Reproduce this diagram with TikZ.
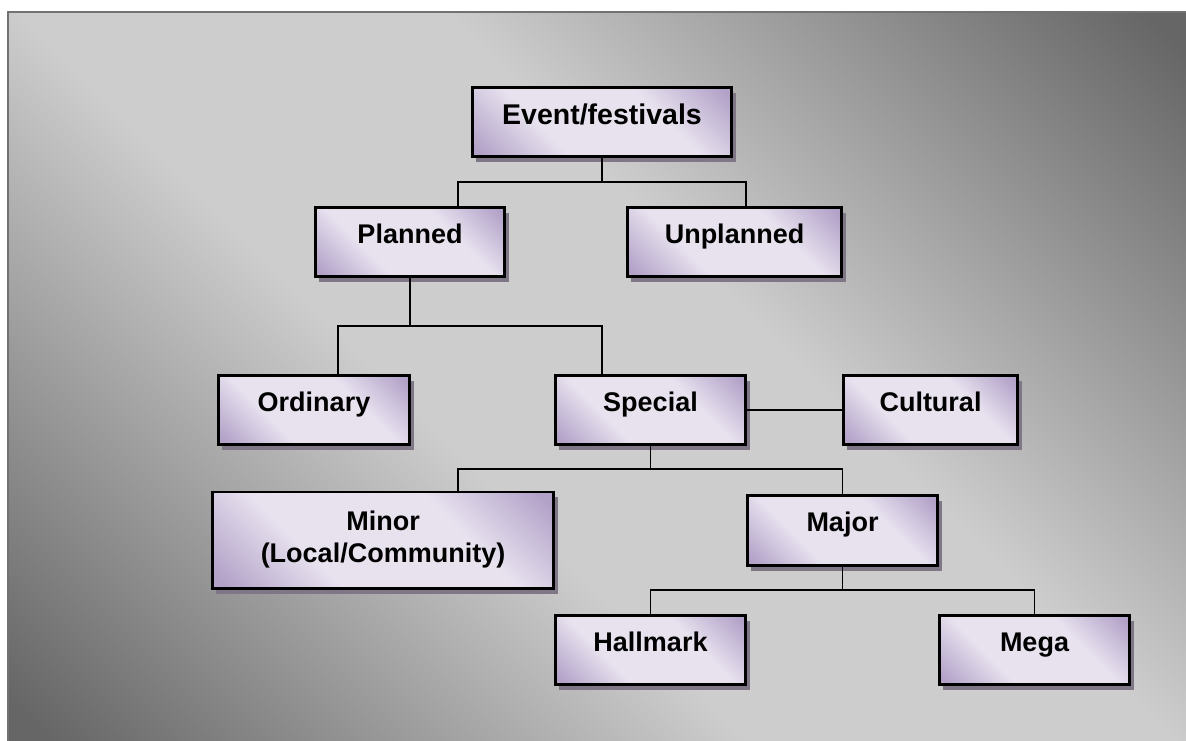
\documentclass[tikz,border=0pt]{standalone}
\usepackage{fontspec}
\setmainfont{Liberation Sans}
\usetikzlibrary{shadows,calc}
\definecolor{bgdark}{HTML}{666666}
\definecolor{bglight}{HTML}{CDCDCD}
\definecolor{boxpurple}{HTML}{B2A2C8}
\definecolor{boxlight}{HTML}{E8E2EF}
\definecolor{shadowc}{HTML}{7F7786}
\definecolor{framec}{HTML}{727272}
\pgfdeclareverticalshading{bgshade}{100bp}{color(0bp)=(bgdark); color(16bp)=(bgdark); color(42bp)=(bglight); color(58bp)=(bglight); color(84bp)=(bgdark); color(100bp)=(bgdark)}
\pgfdeclareverticalshading{boxshade}{100bp}{color(0bp)=(boxpurple); color(17bp)=(boxpurple); color(36bp)=(boxlight); color(64bp)=(boxlight); color(83bp)=(boxpurple); color(100bp)=(boxpurple)}
\tikzset{
  ebox/.style={draw=black, line width=2.6pt, shading=boxshade, shading angle=-45,
    drop shadow={shadow xshift=4pt, shadow yshift=-5.5pt, fill=shadowc, opacity=1},
    font=\bfseries\fontsize{27}{32}\selectfont, inner sep=0pt,
    text height=20pt, text depth=18pt},
  bsize/.style 2 args={minimum width={#1pt-2.6pt}, minimum height={#2pt-2.6pt}},
  conn/.style={draw=black, line width=1.8pt}
}
\begin{document}
\begin{tikzpicture}[x=1pt,y=-1pt]
\useasboundingbox (0,0) rectangle (1186,740);
\clip (0,0) rectangle (1186,740);
\shade[shading=bgshade, shading angle=-45] (7,11) rectangle (1186,740);
\draw[framec, line width=2pt] (8,760) -- (8,12) -- (1200,12);
% boxes
\node[ebox, bsize={262}{72}, font=\bfseries\fontsize{28.5}{32}\selectfont, text depth=16pt] (ev) at (602,122) {Event/festivals};
\node[ebox, bsize={192}{72}] (pl) at (410,242) {Planned};
\node[ebox, bsize={217}{72}] (up) at (734.5,242) {Unplanned};
\node[ebox, bsize={194}{72}] (or) at (314,410) {Ordinary};
\node[ebox, bsize={193}{72}] (sp) at (650.5,410) {Special};
\node[ebox, bsize={177}{72}] (cu) at (930.5,410) {Cultural};
\node[ebox, bsize={344}{99}, align=center, text height=, text depth=] (mi) at (383,540) {Minor\\(Local/Community)};
\node[ebox, bsize={193}{73}] (ma) at (842.5,530.5) {Major};
\node[ebox, bsize={193}{72}] (ha) at (650.5,650) {Hallmark};
\node[ebox, bsize={193}{72}] (me) at (1034.5,650) {Mega};
% connectors
\coordinate (j1) at ($(ev.south)+(0,24)$);
\draw[conn] (ev.south) -- (j1);
\draw[conn] ($(pl.north)+(48,0)$) |- (j1) -| ($(up.north)+(11.5,0)$);
\coordinate (j2) at ($(pl.south)+(0,48)$);
\draw[conn] (pl.south) -- (j2);
\draw[conn] ($(or.north)+(24,0)$) |- (j2) -| ($(sp.north)+(-48.5,0)$);
\draw[conn] (sp.east) -- (cu.west);
\coordinate (j3) at ($(sp.south)+(0,23)$);
\draw[conn] (sp.south) -- (j3);
\draw[conn] ($(mi.north)+(75,0)$) |- (j3) -| (ma.north);
\coordinate (j4) at ($(ma.south)+(0,23)$);
\draw[conn] (ma.south) -- (j4);
\draw[conn] (ha.north) |- (j4) -| (me.north);
\end{tikzpicture}
\end{document}
